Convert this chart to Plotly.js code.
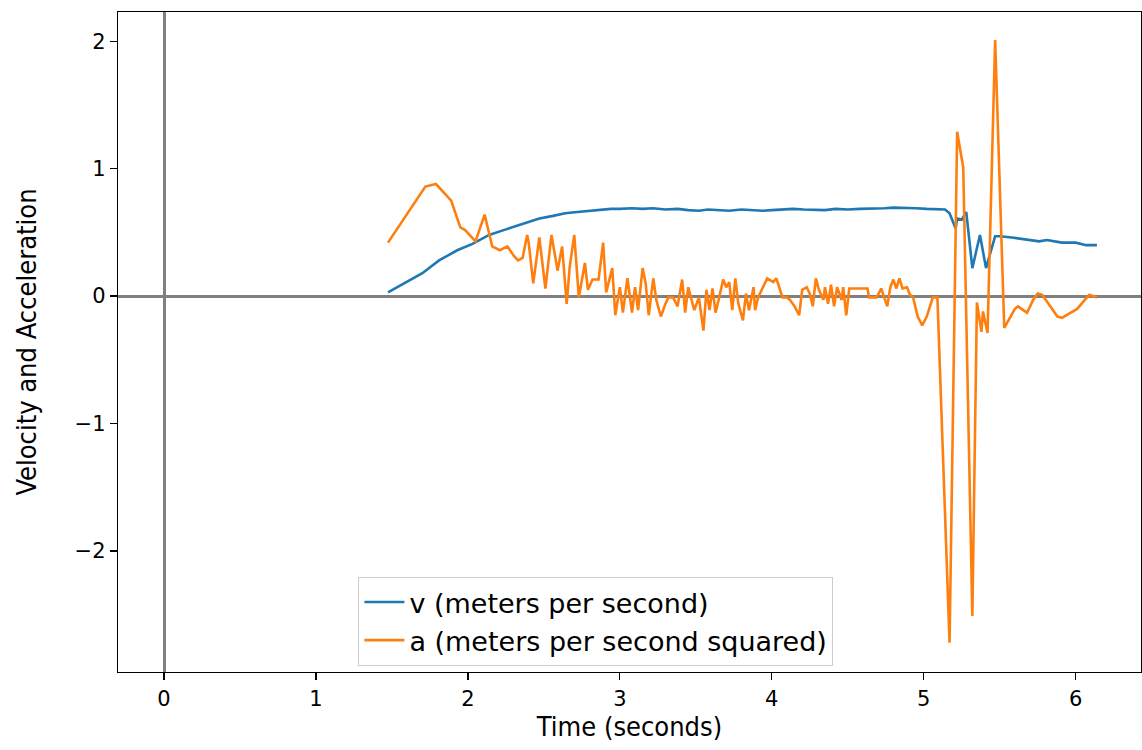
<!DOCTYPE html>
<html>
<head>
<meta charset="utf-8">
<script src="https://cdn.plot.ly/plotly-3.0.1.min.js"></script>
<style>html,body{margin:0;padding:0;background:#fff;}#chart{width:1142px;height:750px;}</style>
</head>
<body>
<div id="chart"></div>
<script>
// Velocity samples
const timeV = [1.474, 1.58, 1.70, 1.81, 1.93, 2.03, 2.14, 2.24, 2.32, 2.39, 2.47, 2.56, 2.64, 2.72, 2.80, 2.87, 2.94, 3.00, 3.08, 3.15, 3.22, 3.30, 3.38, 3.45, 3.52, 3.58, 3.65, 3.72, 3.80, 3.87, 3.94, 4.00, 4.07, 4.14, 4.21, 4.28, 4.35, 4.42, 4.50, 4.58, 4.66, 4.74, 4.80, 4.88, 4.95, 5.02, 5.08, 5.14, 5.17, 5.21, 5.22, 5.25, 5.28, 5.32, 5.37, 5.41, 5.47, 5.50, 5.58, 5.65, 5.72, 5.76, 5.81, 5.86, 5.91, 5.96, 6.00, 6.07, 6.14];
const velocity = [0.03, 0.10, 0.18, 0.28, 0.36, 0.41, 0.48, 0.52, 0.55, 0.58, 0.61, 0.63, 0.65, 0.66, 0.67, 0.68, 0.685, 0.685, 0.69, 0.685, 0.69, 0.68, 0.685, 0.675, 0.67, 0.68, 0.675, 0.67, 0.68, 0.675, 0.67, 0.675, 0.68, 0.685, 0.68, 0.68, 0.675, 0.685, 0.68, 0.685, 0.685, 0.69, 0.695, 0.695, 0.69, 0.685, 0.685, 0.68, 0.65, 0.53, 0.61, 0.60, 0.66, 0.22, 0.48, 0.22, 0.47, 0.47, 0.46, 0.45, 0.44, 0.43, 0.44, 0.43, 0.42, 0.42, 0.42, 0.40, 0.40];

// Acceleration samples
const timeA = [1.474, 1.72, 1.79, 1.87, 1.89, 1.95, 1.98, 2.05, 2.11, 2.16, 2.21, 2.26, 2.30, 2.33, 2.36, 2.39, 2.40, 2.43, 2.47, 2.51, 2.55, 2.59, 2.62, 2.65, 2.67, 2.70, 2.73, 2.77, 2.79, 2.82, 2.86, 2.89, 2.91, 2.95, 2.97, 3.00, 3.02, 3.05, 3.08, 3.10, 3.12, 3.15, 3.17, 3.19, 3.22, 3.24, 3.27, 3.30, 3.32, 3.35, 3.38, 3.41, 3.43, 3.45, 3.47, 3.49, 3.52, 3.55, 3.57, 3.59, 3.61, 3.63, 3.65, 3.68, 3.70, 3.72, 3.74, 3.76, 3.78, 3.81, 3.83, 3.85, 3.88, 3.89, 3.91, 3.94, 3.97, 4.01, 4.03, 4.07, 4.10, 4.12, 4.15, 4.18, 4.20, 4.23, 4.25, 4.27, 4.29, 4.31, 4.34, 4.35, 4.37, 4.39, 4.41, 4.43, 4.46, 4.47, 4.49, 4.51, 4.56, 4.63, 4.64, 4.69, 4.72, 4.76, 4.78, 4.80, 4.82, 4.84, 4.86, 4.89, 4.91, 4.93, 4.96, 4.99, 5.02, 5.04, 5.06, 5.09, 5.17, 5.22, 5.26, 5.32, 5.35, 5.38, 5.39, 5.42, 5.47, 5.53, 5.60, 5.62, 5.68, 5.72, 5.75, 5.78, 5.83, 5.88, 5.91, 5.97, 6.01, 6.06, 6.09, 6.14];
const acceleration = [0.42, 0.86, 0.88, 0.78, 0.75, 0.54, 0.52, 0.43, 0.64, 0.39, 0.36, 0.39, 0.32, 0.28, 0.30, 0.48, 0.42, 0.10, 0.46, 0.06, 0.48, 0.20, 0.39, -0.06, 0.23, 0.48, -0.01, 0.26, 0.05, 0.13, 0.13, 0.42, 0.03, 0.22, -0.15, 0.07, -0.13, 0.14, -0.13, 0.07, -0.11, 0.22, 0.10, -0.15, 0.14, -0.03, -0.16, -0.06, -0.01, -0.01, -0.08, 0.13, -0.13, 0.07, -0.03, -0.11, -0.01, -0.27, 0.05, -0.11, 0.06, -0.13, -0.03, 0.13, 0.07, 0.11, -0.11, 0.14, -0.06, -0.19, 0.02, -0.11, 0.07, -0.11, -0.01, 0.07, 0.14, 0.11, 0.14, -0.01, -0.01, -0.03, -0.08, -0.15, 0.05, 0.07, 0.02, -0.08, 0.14, 0.05, -0.03, 0.07, -0.06, 0.09, -0.08, 0.07, -0.03, 0.07, -0.15, 0.06, 0.06, 0.06, -0.01, -0.01, 0.06, -0.08, 0.07, 0.13, 0.06, 0.14, 0.06, 0.07, 0.01, -0.01, -0.16, -0.23, -0.16, -0.08, -0.01, -0.01, -2.72, 1.29, 1.01, -2.51, -0.05, -0.28, -0.12, -0.29, 2.01, -0.25, -0.10, -0.08, -0.13, -0.03, 0.02, 0.01, -0.08, -0.16, -0.17, -0.13, -0.10, -0.03, 0.01, -0.01];

const seriesNames = ['v (meters per second)', 'a (meters per second squared)'];
const xTicks = [0, 1, 2, 3, 4, 5, 6];
const yTicks = [-2, -1, 0, 1, 2];

const traces = [
  {x: timeV, y: velocity, name: seriesNames[0], type: 'scatter', mode: 'lines',
   line: {color: '#1f77b4', width: 2.6}},
  {x: timeA, y: acceleration, name: seriesNames[1], type: 'scatter', mode: 'lines',
   line: {color: '#ff7f0e', width: 2.6}}
];

const axisCommon = {
  showgrid: false,
  zeroline: true,
  zerolinecolor: '#808080',
  zerolinewidth: 3,
  showline: true,
  linecolor: '#000',
  linewidth: 1.3,
  mirror: true,
  ticks: 'outside',
  ticklen: 7,
  tickwidth: 1.3,
  tickcolor: '#000',
  tickfont: {family: 'DejaVu Sans', size: 21, color: '#000'}
};

const titleFont = {family: 'DejaVu Sans Condensed, DejaVu Sans', size: 27, color: '#000'};

const layout = {
  width: 1142, height: 750,
  margin: {l: 118, r: 1, t: 12, b: 78},
  paper_bgcolor: '#fff', plot_bgcolor: '#fff',
  showlegend: true,
  legend: {
    x: 0.235, y: 0.144, xanchor: 'left', yanchor: 'top',
    bgcolor: 'rgba(255,255,255,0.8)', bordercolor: '#cccccc', borderwidth: 1,
    font: {family: 'DejaVu Sans', size: 27, color: '#000'},
    itemwidth: 40
  },
  xaxis: Object.assign({}, axisCommon, {
    range: [-0.303, 6.43], tickvals: xTicks,
    title: {text: 'Time (seconds)', font: titleFont, standoff: 6}
  }),
  yaxis: Object.assign({}, axisCommon, {
    range: [-2.95, 2.23], tickvals: yTicks,
    title: {text: 'Velocity and Acceleration', font: titleFont, standoff: 30}
  })
};

Plotly.newPlot('chart', traces, layout, {displayModeBar: false, staticPlot: true});
</script>
</body>
</html>
